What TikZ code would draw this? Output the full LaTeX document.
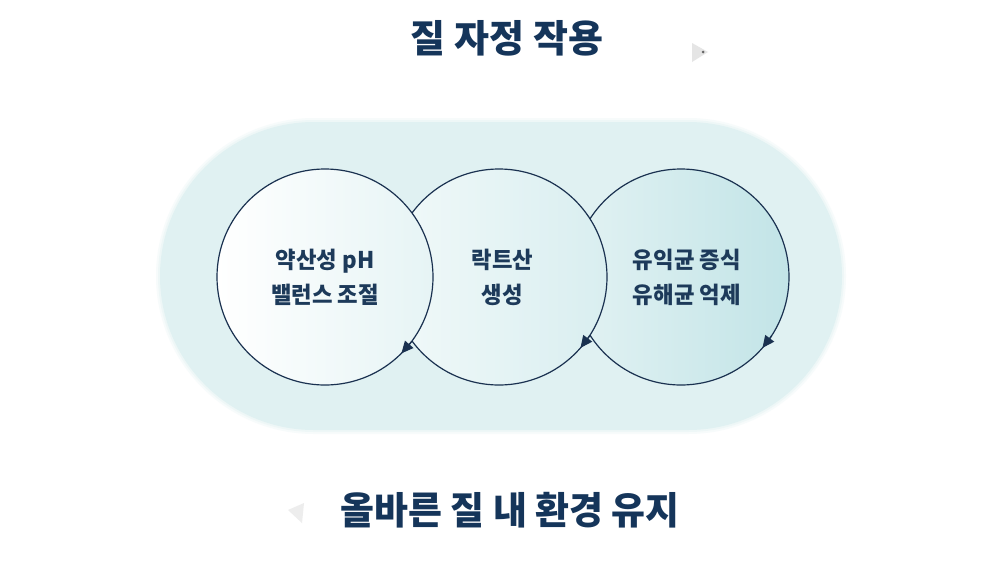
\documentclass[tikz,border=0pt]{standalone}
\usepackage{fontspec}
\usepackage{graphicx}
\usetikzlibrary{arrows.meta}
\newfontfamily\krfont{Noto Sans CJK KR}
\definecolor{navy}{HTML}{15355A}
\definecolor{ink}{HTML}{1D3A5A}
\definecolor{edge}{HTML}{1A3150}
\definecolor{pillc}{HTML}{E0F1F2}
\definecolor{pillglow}{HTML}{E0F1F2}
\definecolor{lA}{HTML}{FFFFFF}
\definecolor{lB}{HTML}{E6F4F5}
\definecolor{mA}{HTML}{F1F9F9}
\definecolor{mB}{HTML}{D9EEF0}
\definecolor{rA}{HTML}{E2F2F3}
\definecolor{rB}{HTML}{C2E4E7}
\newcommand\sqz[1]{\scalebox{0.97}[1]{#1}}
\tikzset{
  cyc/.style={circle, minimum size=216pt, inner sep=0pt, outer sep=0pt,
    draw=edge, line width=1.2pt, align=center, text=ink,
    font=\krfont\bfseries\fontsize{23}{35}\selectfont},
  cycarrow/.style={draw=edge, line width=1.2pt,
    -{Triangle[length=12pt,width=11pt]}},
  headline/.style={text=navy, inner sep=0pt, font=\krfont\bfseries\fontsize{38}{44}\selectfont},
}
\begin{document}
\begin{tikzpicture}[x=1pt,y=-1pt]
\useasboundingbox (0,0) rectangle (1000,560);
\fill[white] (0,0) rectangle (1000,560);
% pill background with soft edge
\fill[pillglow, opacity=0.25, rounded corners=158pt] (156,118) rectangle (846,434);
\fill[pillglow, opacity=0.35, rounded corners=156pt] (158,120) rectangle (844,432);
\fill[pillc, rounded corners=154pt] (160,122) rectangle (842,430);
% circles (right first, left on top)
\node[cyc, left color=rA, right color=rB] (R) at (681,277) {\sqz{\kern12pt 유익균 증식}\\\sqz{\kern12pt 유해균 억제}};
\node[cyc, left color=mA, right color=mB] (M) at (499,277) {\sqz{\kern7pt 락트산}\\\sqz{\kern7pt 생성}};
\node[cyc, left color=lA, right color=lB] (L) at (325,277) {\sqz{약산성 pH}\\\sqz{밸런스 조절}};
% arrowheads
\draw[cycarrow] (L.-37) -- (L.-45);
\draw[cycarrow] (M.-33) -- (M.-41);
\draw[cycarrow] (R.-33) -- (R.-41);
% titles
\node[headline] (top) at (507,38) {질 자정 작용};
\node[headline] (bottom) at (510,510) {\scalebox{0.97}[1]{올바른 질 내 환경 유지}};
% faded triangles
\fill[black!10] (692,43) -- (708,52) -- (692,62) -- cycle;
\fill[black!60] (703,52) circle (1.5pt);
\fill[black!7] (288,510) -- (304,503) -- (302,523) -- cycle;
\end{tikzpicture}
\end{document}
